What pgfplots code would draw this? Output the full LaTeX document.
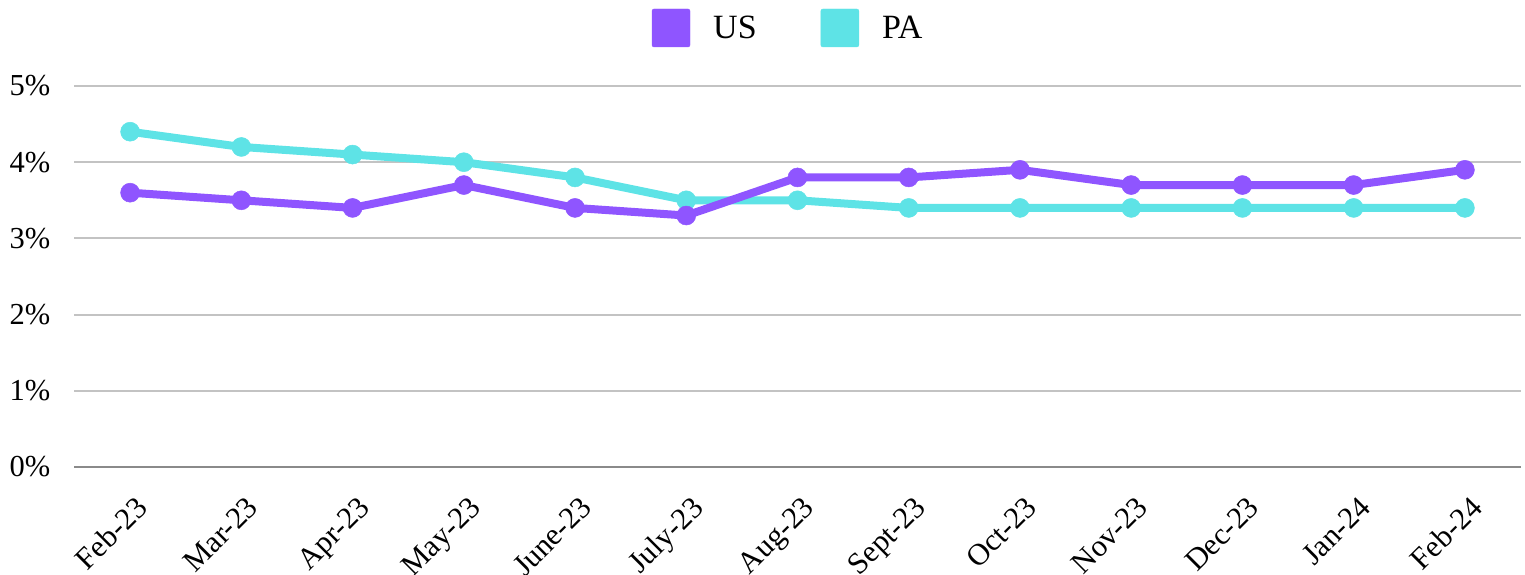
\documentclass[border=0pt]{standalone}
\usepackage{fontspec}
\setmainfont{Liberation Serif}
\usepackage{pgfplots}
\pgfplotsset{compat=1.18}
\definecolor{usc}{HTML}{8F55FF}
\definecolor{pac}{HTML}{5EE3E6}
\definecolor{gridc}{HTML}{C3C3C3}
\definecolor{zeroc}{HTML}{8A8A8A}
\begin{document}
\begin{tikzpicture}
\begin{scope}
\clip (0,0) rectangle (1525pt,575pt);
\begin{axis}[
  at={(74.5pt,108pt)}, anchor=south west,
  scale only axis, width=1446pt, height=381pt,
  xmin=-0.5, xmax=12.5, ymin=0, ymax=5,
  axis lines=left, axis line style={draw=none},
  major tick length=0pt,
  xtick={0,...,12},
  xticklabels={Feb-23,Mar-23,Apr-23,May-23,June-23,July-23,Aug-23,Sept-23,Oct-23,Nov-23,Dec-23,Jan-24,Feb-24},
  ytick={1,2,3,4,5},
  yticklabels={1\%,2\%,3\%,4\%,5\%},
  extra y ticks={0}, extra y tick labels={0\%},
  extra y tick style={grid style={zeroc, line width=2.5pt}},
  ymajorgrids, grid style={gridc, line width=2pt},
  tick label style={font=\fontsize{30.5}{36}\selectfont},
  yticklabel style={anchor=east, inner sep=0pt, xshift=-24pt},
  xticklabel style={xshift=4pt, yshift=-23pt, rotate=45, anchor=north east},
  clip=false,
  legend columns=2,
  legend style={at={(0.4935,1)}, anchor=center, yshift=58pt, draw=none, fill=none,
    font=\fontsize{34}{40}\selectfont,
    /tikz/every even column/.append style={column sep=62pt}},
]
\addlegendimage{legend image code/.code={\fill[usc, rounded corners=2pt] (0pt,-19pt) rectangle (38pt,19pt); \path (59pt,0pt);}}
\addlegendentry{US}
\addlegendimage{legend image code/.code={\fill[pac, rounded corners=2pt] (0pt,-19pt) rectangle (38pt,19pt); \path (59pt,0pt);}}
\addlegendentry{PA}
\addplot[pac, line width=8pt, mark=*, mark size=9.5pt, mark options={line width=0.5pt, fill=pac}, forget plot]
  coordinates {(0,4.4) (1,4.2) (2,4.1) (3,4.0) (4,3.8) (5,3.5) (6,3.5) (7,3.4) (8,3.4) (9,3.4) (10,3.4) (11,3.4) (12,3.4)};
\addplot[usc, line width=8pt, mark=*, mark size=9.5pt, mark options={line width=0.5pt, fill=usc}, forget plot]
  coordinates {(0,3.6) (1,3.5) (2,3.4) (3,3.7) (4,3.4) (5,3.3) (6,3.8) (7,3.8) (8,3.9) (9,3.7) (10,3.7) (11,3.7) (12,3.9)};
\end{axis}
\end{scope}
\pgfresetboundingbox
\useasboundingbox (0,0) rectangle (1525pt,575pt);
\end{tikzpicture}
\end{document}
